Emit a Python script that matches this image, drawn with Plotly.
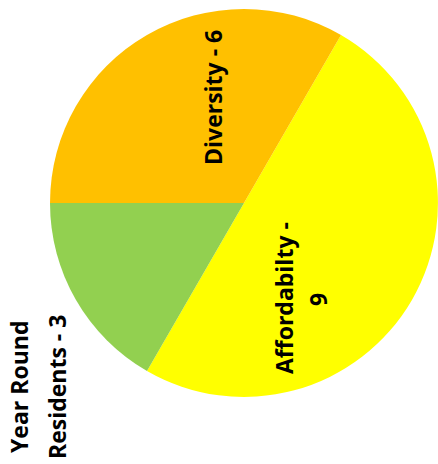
import plotly.graph_objects as go

# Data
categories = ["Affordabilty", "Year Round Residents", "Diversity"]
values = [9, 3, 6]
colors = ["#FFFF00", "#92D050", "#FFC000"]
label_lines = [["Affordabilty -", "9"], ["Year Round", "Residents - 3"], ["Diversity - 6"]]

W, H = 438, 464

fig = go.Figure(
    go.Pie(
        labels=categories,
        values=values,
        marker=dict(colors=colors, line=dict(width=0)),
        sort=False,
        direction="clockwise",
        rotation=30,
        textinfo="none",
        hoverinfo="label+value",
        domain=dict(x=[50 / W, 1.0], y=[(H - 399) / H, (H - 7) / H]),
        showlegend=False,
    )
)

# label placement (pixel centres per line) for rotated labels
line_pos = [[(284, 298), (318, 300)], [(19, 387), (57, 387)], [(213, 98)]]
for lines, poss in zip(label_lines, line_pos):
    for txt, (px, py) in zip(lines, poss):
        fig.add_annotation(
            text=f"<b>{txt}</b>",
            x=px / W, y=1 - py / H, xref="paper", yref="paper",
            xanchor="center", yanchor="middle",
            textangle=-90, showarrow=False,
            font=dict(family="Open Sans", size=23, color="black"),
            align="center",
        )

fig.update_layout(
    width=W, height=H,
    margin=dict(l=0, r=0, t=0, b=0),
    paper_bgcolor="white",
    plot_bgcolor="white",
)

fig.write_html("out.html")
